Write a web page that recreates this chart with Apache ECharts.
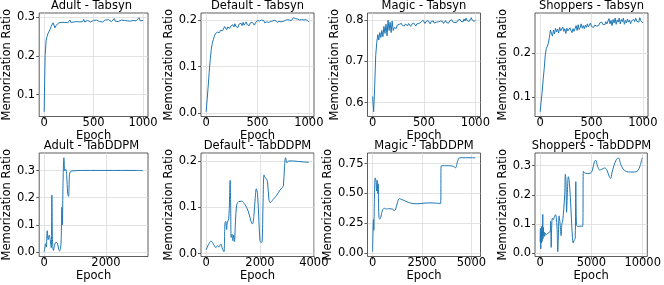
<!DOCTYPE html>
<html><head><meta charset="utf-8">
<script src="https://cdn.jsdelivr.net/npm/echarts@6/dist/echarts.min.js"></script>
<style>html,body{margin:0;padding:0;background:#fff}#c{width:664px;height:285px}</style>
</head><body><div id="c"></div>
<script>
// ---------- DATA ----------
const titles = ['Adult - Tabsyn','Default - Tabsyn','Magic - Tabsyn','Shoppers - Tabsyn',
                'Adult - TabDDPM','Default - TabDDPM','Magic - TabDDPM','Shoppers - TabDDPM'];
const xAxisName = 'Epoch';
const yAxisName = 'Memorization Ratio';

const tabsynEpochs = [0,10,20,30,40,50,60,70,80,90,100,110,120,130,140,150,160,170,180,190,
 200,210,220,230,240,250,260,270,280,290,300,310,320,330,340,350,360,370,380,390,
 400,410,420,430,440,450,460,470,480,490,500,510,520,530,540,550,560,570,580,590,
 600,610,620,630,640,650,660,670,680,690,700,710,720,730,740,750,760,770,780,790,
 800,810,820,830,840,850,860,870,880,890,900,910,920,930,940,950,960,970,980,990,1000];

const adultTabsyn = [0.056,0.200,0.240,0.250,0.258,0.263,0.268,0.275,0.280,0.285,
 0.280,0.272,0.278,0.283,0.281,0.285,0.282,0.284,0.286,0.284,
 0.285,0.286,0.284,0.287,0.285,0.284,0.292,0.286,0.288,0.285,
 0.287,0.289,0.286,0.288,0.285,0.289,0.287,0.290,0.285,0.288,
 0.294,0.287,0.290,0.286,0.291,0.288,0.290,0.287,0.292,0.289,
 0.291,0.288,0.290,0.292,0.289,0.291,0.288,0.292,0.290,0.287,
 0.291,0.289,0.292,0.288,0.290,0.293,0.289,0.291,0.288,0.292,
 0.290,0.296,0.289,0.292,0.290,0.288,0.291,0.289,0.292,0.290,
 0.287,0.291,0.289,0.292,0.290,0.288,0.291,0.289,0.292,0.290,
 0.291,0.289,0.292,0.290,0.293,0.291,0.298,0.290,0.292,0.290,0.291];

const defaultTabsyn = [0.003,0.030,0.058,0.088,0.115,0.137,0.150,0.158,0.165,0.171,
 0.168,0.174,0.176,0.173,0.178,0.180,0.177,0.181,0.186,0.183,
 0.179,0.185,0.188,0.182,0.187,0.184,0.190,0.185,0.192,0.186,
 0.189,0.184,0.191,0.187,0.193,0.188,0.195,0.189,0.192,0.196,
 0.190,0.193,0.188,0.194,0.191,0.195,0.192,0.189,0.194,0.191,
 0.199,0.202,0.198,0.195,0.200,0.196,0.199,0.194,0.198,0.196,
 0.200,0.195,0.199,0.197,0.194,0.198,0.196,0.200,0.197,0.195,
 0.199,0.197,0.200,0.196,0.199,0.197,0.195,0.199,0.197,0.201,
 0.198,0.200,0.196,0.199,0.202,0.205,0.201,0.203,0.199,0.202,
 0.198,0.200,0.197,0.201,0.198,0.200,0.197,0.201,0.203,0.198,0.196];

const magicTabsyn = [0.615,0.578,0.640,0.715,0.745,0.765,0.752,0.770,0.758,0.775,
 0.760,0.785,0.768,0.790,0.762,0.800,0.775,0.795,0.770,0.798,
 0.775,0.782,0.786,0.780,0.788,0.784,0.790,0.786,0.792,0.787,
 0.790,0.786,0.791,0.788,0.786,0.792,0.788,0.785,0.790,0.787,
 0.793,0.789,0.786,0.791,0.788,0.792,0.789,0.795,0.791,0.800,
 0.796,0.792,0.797,0.793,0.799,0.795,0.791,0.797,0.794,0.798,
 0.793,0.797,0.795,0.791,0.796,0.793,0.798,0.794,0.797,0.792,
 0.796,0.799,0.794,0.797,0.793,0.798,0.795,0.801,0.796,0.799,
 0.794,0.798,0.795,0.800,0.796,0.802,0.797,0.800,0.796,0.803,
 0.798,0.805,0.799,0.802,0.797,0.801,0.806,0.800,0.803,0.797,0.800];

const shoppersTabsyn = [0.066,0.090,0.112,0.140,0.165,0.195,0.210,0.215,0.222,0.235,
 0.252,0.245,0.238,0.252,0.243,0.256,0.248,0.254,0.245,0.258,
 0.250,0.246,0.259,0.249,0.255,0.244,0.256,0.250,0.247,0.257,
 0.251,0.246,0.255,0.249,0.253,0.262,0.251,0.264,0.253,0.258,
 0.266,0.256,0.262,0.255,0.263,0.258,0.266,0.259,0.262,0.268,
 0.260,0.264,0.258,0.263,0.266,0.261,0.265,0.262,0.268,0.264,
 0.270,0.265,0.268,0.264,0.271,0.266,0.270,0.278,0.266,0.274,
 0.262,0.276,0.268,0.279,0.265,0.275,0.270,0.279,0.266,0.276,
 0.271,0.279,0.265,0.274,0.268,0.277,0.270,0.275,0.266,0.273,
 0.269,0.276,0.271,0.279,0.272,0.276,0.270,0.280,0.273,0.277,0.268];

const adultDdpmEpochs = [0,20,50,70,100,130,165,200,230,250,270,300,330,380,430,470,500,530,550,575,590,610,640,670,700,730,760,790,820,850,900,1000,1200,1500,2000,2500,3000,3200];
const adultDdpmValues = [0.000,0.012,0.030,0.018,0.078,0.045,0.062,0.040,0.015,0.210,0.045,0.005,0.020,0.035,0.032,0.010,0.003,0.012,0.040,0.165,0.100,0.245,0.348,0.300,0.305,0.285,0.215,0.205,0.285,0.297,0.299,0.300,0.301,0.301,0.301,0.301,0.301,0.300];

const defaultDdpmEpochs = [0,90,180,270,360,420,480,540,610,660,700,730,760,790,840,870,890,910,930,960,990,1020,1050,1090,1130,1200,1320,1440,1560,1660,1720,1770,1820,1865,1910,1960,2000,2040,2080,2110,2150,2190,2230,2280,2330,2380,2490,2620,2740,2830,2870,2910,2950,3000,3070,3200,3400,3600,3815];
const defaultDdpmValues = [0.008,0.020,0.027,0.021,0.013,0.017,0.014,0.021,0.010,0.004,0.066,0.070,0.052,0.068,0.075,0.120,0.158,0.110,0.035,0.042,0.028,0.040,0.026,0.070,0.103,0.112,0.113,0.106,0.092,0.071,0.064,0.080,0.118,0.140,0.128,0.070,0.028,0.024,0.026,0.100,0.170,0.164,0.162,0.155,0.118,0.110,0.117,0.126,0.137,0.143,0.146,0.188,0.207,0.196,0.200,0.200,0.199,0.198,0.197];

const magicDdpmEpochs = [0,40,60,90,130,170,200,230,260,280,300,320,360,400,450,520,600,700,800,900,1000,1080,1150,1250,1350,1450,1600,1800,2000,2300,2600,2900,3200,3440,3470,3700,4000,4100,4200,4300,4400,4700,5000,5200];
const magicDdpmValues = [0.010,0.280,0.190,0.450,0.630,0.600,0.520,0.610,0.500,0.580,0.400,0.300,0.285,0.290,0.330,0.365,0.375,0.368,0.372,0.370,0.370,0.355,0.360,0.420,0.455,0.450,0.440,0.425,0.415,0.413,0.418,0.420,0.418,0.415,0.730,0.732,0.730,0.725,0.715,0.770,0.798,0.799,0.799,0.798];

const shoppersDdpmEpochs = [0,30,65,100,130,160,195,230,260,290,325,360,400,450,520,600,700,800,900,1000,1030,1080,1130,1200,1300,1400,1500,1580,1650,1720,1780,1850,1950,2050,2120,2200,2300,2400,2460,2520,2580,2650,2750,2830,2950,3050,3150,3230,3320,3420,3480,3540,3650,3800,4000,4150,4220,4350,4600,4900,5100,5300,5420,5600,5800,6000,6300,6500,6750,6880,7000,7200,7450,7650,7850,8100,8400,8800,9200,9500,9750,9950];
const shoppersDdpmValues = [0.038,0.085,0.015,0.075,0.035,0.092,0.040,0.082,0.133,0.050,0.088,0.060,0.072,0.058,0.068,0.064,0.066,0.070,0.072,0.075,0.110,0.020,0.090,0.120,0.115,0.125,0.132,0.120,0.090,0.005,0.060,0.128,0.100,0.060,0.100,0.110,0.150,0.200,0.270,0.250,0.140,0.200,0.262,0.250,0.190,0.120,0.055,0.035,0.045,0.050,0.245,0.100,0.092,0.092,0.093,0.092,0.280,0.275,0.273,0.274,0.285,0.315,0.318,0.298,0.285,0.287,0.292,0.285,0.262,0.256,0.275,0.300,0.322,0.326,0.305,0.288,0.280,0.278,0.278,0.282,0.300,0.327];

const xTickLabels = [[0,500,1000],[0,500,1000],[0,500,1000],[0,500,1000],[0,2000],[0,2000,4000],[0,2500,5000],[0,5000,10000]];
const yTickLabels = [[0.1,0.2,0.3],[0.0,0.1,0.2],[0.6,0.7,0.8],[0.1,0.2],[0.0,0.1,0.2,0.3],[0.0,0.1,0.2],[0.00,0.25,0.50,0.75],[0.0,0.1,0.2,0.3]];
const yDecimals = [1,1,1,1,1,1,2,1];

// ---------- LAYOUT ----------
const FONT = "'DejaVu Sans', sans-serif";
const FS = 11.5;
const gridLefts = [35, 201, 367.5, 535];
const gridTops = [13, 153];
const GW = 113, GH = 103.5;
const yNameGaps = [22, 21, 21, 20, 22, 21, 28, 21];

const xs = [tabsynEpochs,tabsynEpochs,tabsynEpochs,tabsynEpochs,adultDdpmEpochs,defaultDdpmEpochs,magicDdpmEpochs,shoppersDdpmEpochs];
const ys = [adultTabsyn,defaultTabsyn,magicTabsyn,shoppersTabsyn,adultDdpmValues,defaultDdpmValues,magicDdpmValues,shoppersDdpmValues];

function pad(arr){ const mn=Math.min(...arr), mx=Math.max(...arr), r=mx-mn; return [mn-0.05*r, mx+0.05*r]; }

const grids=[], xAxes=[], yAxes=[], series=[], graphics=[];
for(let i=0;i<8;i++){
  const col=i%4, row=Math.floor(i/4);
  const left=gridLefts[col], top=gridTops[row];
  grids.push({left:left, top:top, width:GW, height:GH, show:true, borderColor:'#333', borderWidth:0.8, backgroundColor:'transparent'});
  const xr=pad(xs[i]), yr=pad(ys[i]);
  const dec=yDecimals[i];
  xAxes.push({gridIndex:i, type:'value', min:xr[0], max:xr[1],
    axisLine:{show:false,onZero:false},
    axisTick:{show:true,length:3,inside:false,customValues:xTickLabels[i],lineStyle:{color:'#333',width:0.8}},
    axisLabel:{customValues:xTickLabels[i],fontSize:FS,color:'#000',margin:1,fontFamily:FONT,formatter:v=>String(v)},
    splitLine:{show:true,lineStyle:{color:'#dcdcdc',width:0.8}},
    name:xAxisName,nameLocation:'middle',nameGap:9,nameTextStyle:{fontSize:FS,color:'#000',fontFamily:FONT}});
  yAxes.push({gridIndex:i, type:'value', min:yr[0], max:yr[1],
    axisLine:{show:false,onZero:false},
    axisTick:{show:true,length:3,inside:false,customValues:yTickLabels[i],lineStyle:{color:'#333',width:0.8}},
    axisLabel:{customValues:yTickLabels[i],fontSize:FS,color:'#000',margin:4,fontFamily:FONT,formatter:v=>Number(v).toFixed(dec)},
    splitLine:{show:true,lineStyle:{color:'#dcdcdc',width:0.8}},
    name:yAxisName,nameLocation:'middle',nameGap:yNameGaps[i],nameRotate:90,nameTextStyle:{fontSize:FS,color:'#000',fontFamily:FONT}});
  series.push({type:'line', xAxisIndex:i, yAxisIndex:i, data:xs[i].map((v,j)=>[v,ys[i][j]]),
    symbol:'none', showSymbol:false, smooth: row===1 ? 0.35 : false,
    lineStyle:{color:'#1f77b4',width:1}, animation:false});
  graphics.push({type:'text', x: left + GW/2, y: top-6.5, silent:true,
    style:{text:titles[i], align:'center', verticalAlign:'middle', fill:'#000', font:"11.5px 'DejaVu Sans', sans-serif"}});
}

const chart = echarts.init(document.getElementById('c'), null, {renderer:'canvas'});
chart.setOption({
  animation:false,
  graphic: graphics,
  grid:grids, xAxis:xAxes, yAxis:yAxes, series:series
});
</script></body></html>
